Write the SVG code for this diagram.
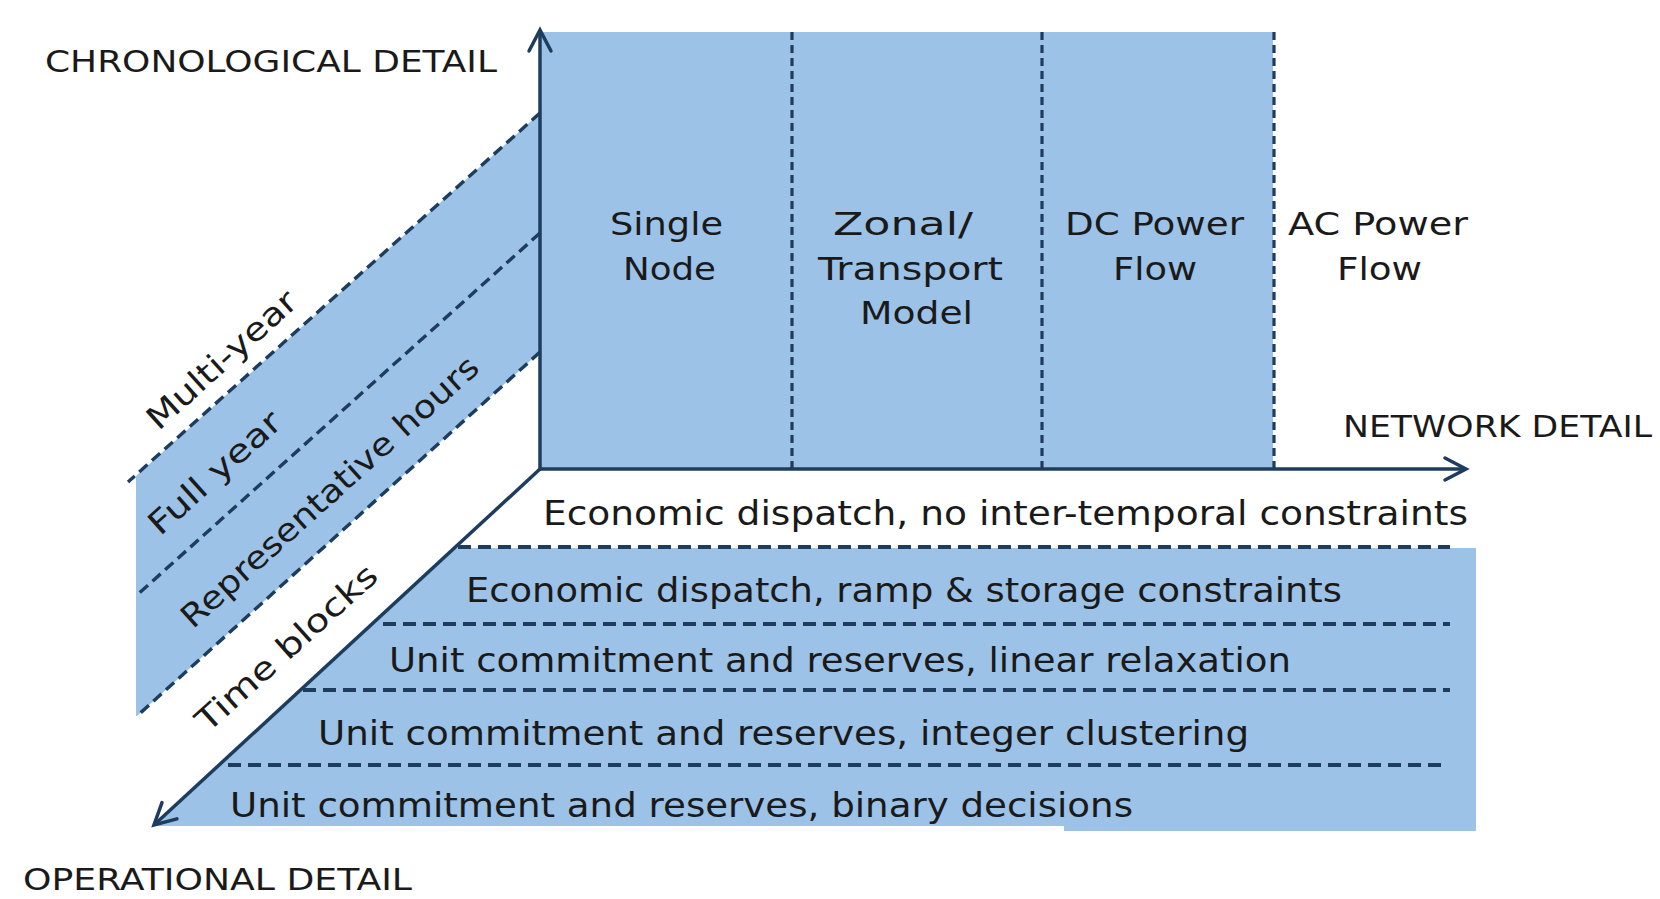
<svg xmlns="http://www.w3.org/2000/svg" width="1660" height="899" viewBox="0 0 1660 899">
  <style>
    .blue { fill: #9cc2e7; }
    .axis { stroke: #1e3d5e; stroke-width: 3.5; fill: none; }
    .hdash { stroke: #1e3d5e; stroke-width: 3.8; stroke-dasharray: 13 7; fill: none; }
    .vdash { stroke: #1e3d5e; stroke-width: 3.2; stroke-dasharray: 8 5; fill: none; }
    .ddash { stroke: #1e3d5e; stroke-width: 3.4; stroke-dasharray: 11 6; fill: none; }
    .t { font-family: "DejaVu Sans", "Liberation Sans", sans-serif; font-size: 32px; fill: #1a1a1a; }
    .row { font-size: 33px; }
    .ax { font-size: 31px; }
  </style>
  <defs>
    <marker id="arr" markerUnits="userSpaceOnUse" viewBox="-24 -14 28 28" refX="0" refY="0" markerWidth="28" markerHeight="28" orient="auto">
      <path d="M-21,-11 L0,0 L-21,11" fill="none" stroke="#1e3d5e" stroke-width="3.5" stroke-linecap="round" stroke-linejoin="miter"/>
    </marker>
  </defs>
  <rect width="1660" height="899" fill="#ffffff"/>

  <!-- Chronological (left) panel -->
  <g id="chronological-panel">
    <polygon class="blue" points="540,113 540,352 137,716 136,716 136,476"/>
    <path class="ddash" d="M540,113 L128,482"/>
    <path class="ddash" d="M540,233 L136,596"/>
    <path class="ddash" d="M540,352 L137,716"/>
  </g>

  <!-- Network (top) panel -->
  <g id="network-panel">
    <rect class="blue" x="540" y="32" width="733" height="437"/>
    <path class="vdash" d="M792,32 V469"/>
    <path class="vdash" d="M1042,32 V469"/>
    <path class="vdash" d="M1274,32 V469"/>
  </g>

  <!-- Operational (bottom) panel -->
  <g id="operational-panel">
    <polygon class="blue" points="454,548 1476,548 1476,831 1064,831 1064,826 153,826"/>
    <path class="hdash" d="M458,547 H1450"/>
    <path class="hdash" d="M383,624 H1450"/>
    <path class="hdash" d="M303,690 H1450"/>
    <path class="hdash" d="M228,765 H1445"/>
  </g>

  <!-- Axes (connectors) -->
  <g id="connectors">
    <path class="axis" d="M540,469 V30" marker-end="url(#arr)"/>
    <path class="axis" d="M540,469 H1466" marker-end="url(#arr)"/>
    <path class="axis" d="M540,469 L154,825" marker-end="url(#arr)"/>
  </g>

  <!-- Axis titles -->
  <g id="axis-chronological"><text class="t ax" x="45" y="72" textLength="452" lengthAdjust="spacingAndGlyphs">CHRONOLOGICAL DETAIL</text></g>
  <g id="axis-network"><text class="t ax" x="1343" y="437" textLength="309" lengthAdjust="spacingAndGlyphs">NETWORK DETAIL</text></g>
  <g id="axis-operational"><text class="t ax" x="23" y="890" textLength="389" lengthAdjust="spacingAndGlyphs">OPERATIONAL DETAIL</text></g>

  <!-- Network columns -->
  <g id="col-single-node">
    <text class="t" x="610" y="235" textLength="113" lengthAdjust="spacingAndGlyphs">Single</text>
    <text class="t" x="623" y="280" textLength="93" lengthAdjust="spacingAndGlyphs">Node</text>
  </g>
  <g id="col-zonal">
    <text class="t" x="833" y="235" textLength="140" lengthAdjust="spacingAndGlyphs">Zonal/</text>
    <text class="t" x="818" y="280" textLength="185" lengthAdjust="spacingAndGlyphs">Transport</text>
    <text class="t" x="860" y="324" textLength="113" lengthAdjust="spacingAndGlyphs">Model</text>
  </g>
  <g id="col-dc">
    <text class="t" x="1065" y="235" textLength="179" lengthAdjust="spacingAndGlyphs">DC Power</text>
    <text class="t" x="1113" y="280" textLength="84" lengthAdjust="spacingAndGlyphs">Flow</text>
  </g>
  <g id="col-ac">
    <text class="t" x="1288" y="235" textLength="180" lengthAdjust="spacingAndGlyphs">AC Power</text>
    <text class="t" x="1337" y="280" textLength="85" lengthAdjust="spacingAndGlyphs">Flow</text>
  </g>

  <!-- Chronological labels -->
  <g id="chrono-multi-year"><text class="t" transform="translate(221,359) rotate(-42)" x="0" y="12" text-anchor="middle" textLength="190" lengthAdjust="spacingAndGlyphs">Multi-year</text></g>
  <g id="chrono-full-year"><text class="t" transform="translate(214,472) rotate(-42)" x="0" y="12" text-anchor="middle" textLength="167" lengthAdjust="spacingAndGlyphs">Full year</text></g>
  <g id="chrono-representative"><text class="t" transform="translate(329,491) rotate(-42)" x="0" y="12" text-anchor="middle" textLength="388" lengthAdjust="spacingAndGlyphs">Representative hours</text></g>
  <g id="chrono-time-blocks"><text class="t" transform="translate(286,647) rotate(-42)" x="0" y="12" text-anchor="middle" textLength="232" lengthAdjust="spacingAndGlyphs">Time blocks</text></g>

  <!-- Operational rows -->
  <g id="op-row-1"><text class="t row" x="543" y="525" textLength="925" lengthAdjust="spacingAndGlyphs">Economic dispatch, no inter-temporal constraints</text></g>
  <g id="op-row-2"><text class="t row" x="466" y="602" textLength="876" lengthAdjust="spacingAndGlyphs">Economic dispatch, ramp &amp; storage constraints</text></g>
  <g id="op-row-3"><text class="t row" x="389" y="672" textLength="902" lengthAdjust="spacingAndGlyphs">Unit commitment and reserves, linear relaxation</text></g>
  <g id="op-row-4"><text class="t row" x="318" y="745" textLength="931" lengthAdjust="spacingAndGlyphs">Unit commitment and reserves, integer clustering</text></g>
  <g id="op-row-5"><text class="t row" x="230" y="817" textLength="903" lengthAdjust="spacingAndGlyphs">Unit commitment and reserves, binary decisions</text></g>
</svg>
